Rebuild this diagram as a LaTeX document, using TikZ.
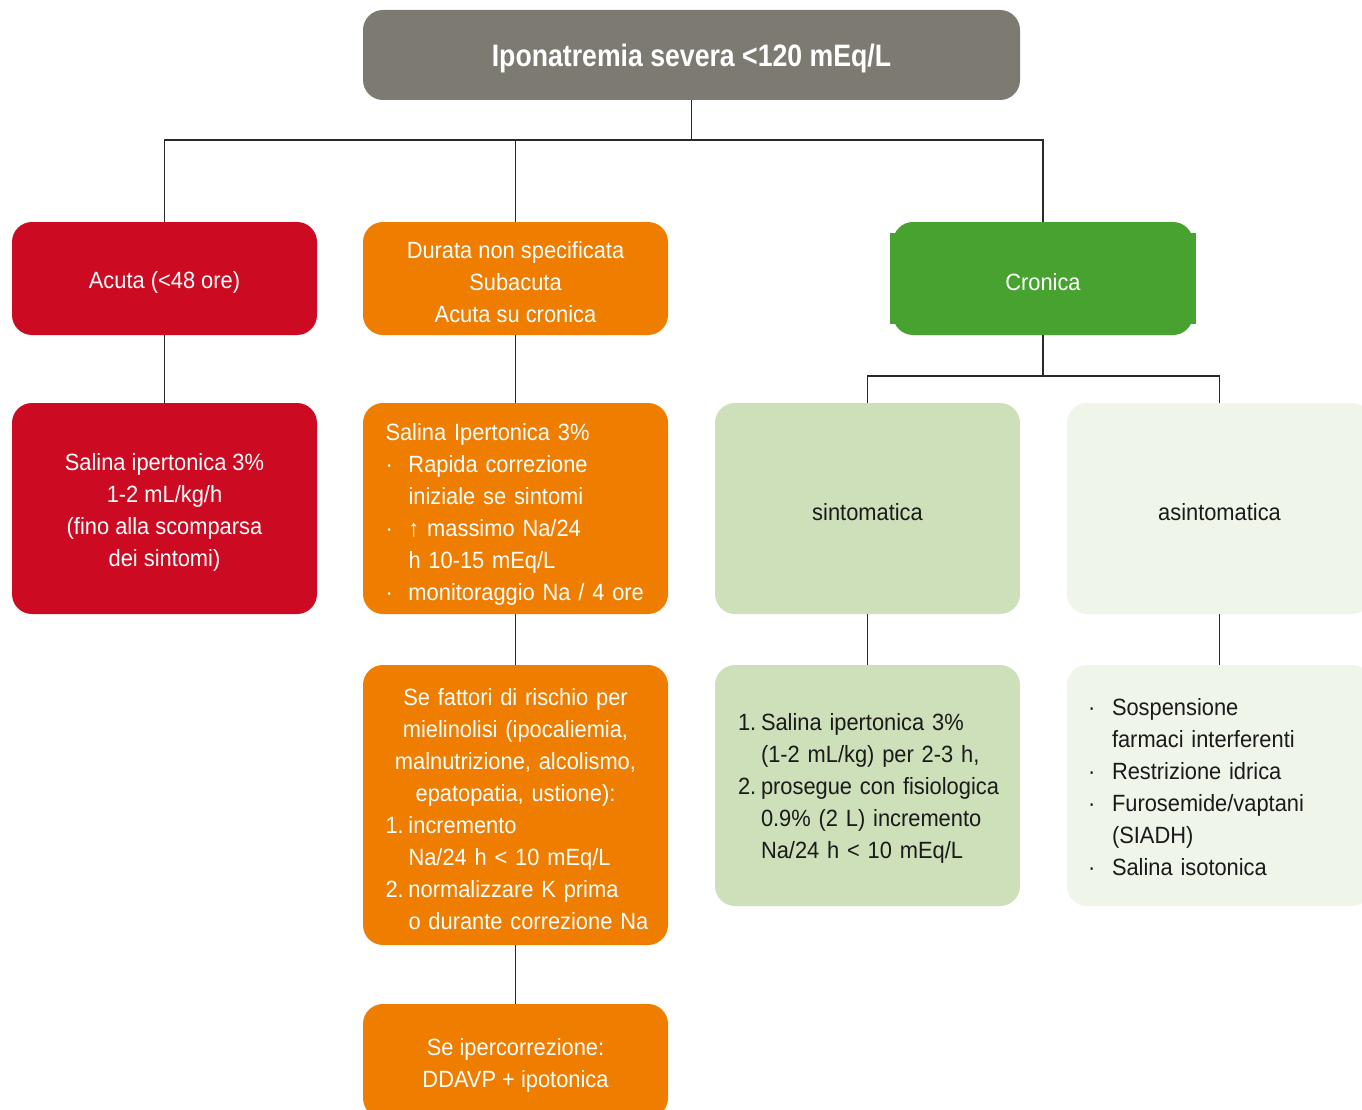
\documentclass[tikz,border=0pt]{standalone}
\usepackage{fontspec}
\setmainfont{Liberation Sans}[FakeStretch=0.93]
\newfontfamily\titlefont{Liberation Sans}[FakeStretch=0.86]
\definecolor{cgray}{HTML}{7D7A72}
\definecolor{cred}{HTML}{CC0A22}
\definecolor{corange}{HTML}{EE7D00}
\definecolor{cgreen}{HTML}{47A22F}
\definecolor{clgreen}{HTML}{CDE0B9}
\definecolor{cvlgreen}{HTML}{EFF5E8}
\definecolor{ctext}{HTML}{1A1A1A}
\definecolor{cline}{HTML}{2A2A2A}
\newcommand{\bul}[1]{\mbox{\makebox[23pt][l]{·}#1}}
\newcommand{\cont}[1]{\mbox{\hspace*{23pt}#1}}
\newcommand{\bulb}[1]{\mbox{\makebox[24pt][l]{·}#1}}
\newcommand{\contb}[1]{\mbox{\hspace*{24pt}#1}}
\newcommand{\enu}[2]{\mbox{\makebox[23pt][l]{#1}#2}}
\begin{document}
\begin{tikzpicture}[x=1pt,y=-1pt,
  box/.style={rounded corners=20pt, minimum width=305pt, inner sep=0pt},
  txt/.style={inner sep=0pt, align=center, yshift=-4pt,
    font=\fontsize{23.5pt}{32pt}\selectfont, text=white},
  dark/.style={text=ctext},
  conn/.style={draw=cline, line width=1.1pt}]
\useasboundingbox (0,0) rectangle (1362,1110);
\clip (0,0) rectangle (1362,1110);
\fill[white] (0,0) rectangle (1362,1110);

\node[box, fill=cgray, minimum width=657pt, minimum height=90pt,
  label={[txt, yshift=1pt, font=\titlefont\bfseries\fontsize{31pt}{36pt}\selectfont]center:Iponatremia severa <120 mEq/L}] (top) at (691.5,55) {};

\node[box, fill=cred, minimum height=113pt,
  label={[txt]center:Acuta (<48 ore)}] (acuta) at (164.5,278.5) {};
\node[box, fill=corange, minimum height=113pt,
  label={[txt]center:{Durata non specificata\\Subacuta\\Acuta su cronica}}] (durata) at (515.5,278.5) {};
\fill[cgreen] (890,233) rectangle (1196,324);
\node[box, fill=cgreen, minimum width=300pt, minimum height=113pt,
  label={[txt]center:Cronica}] (cronica) at (1043,278.5) {};

\node[box, fill=cred, minimum height=211pt,
  label={[txt]center:{Salina ipertonica 3\%\\1-2 mL/kg/h\\(fino alla scomparsa\\dei sintomi)}}] (salina1) at (164.5,508.5) {};
\node[box, fill=corange, minimum height=211pt,
  label={[txt, yshift=-2pt, text width=260pt, align=left]center:{Salina Ipertonica 3\%\\\bul{Rapida correzione}\\\cont{iniziale se sintomi}\\\bul{↑ massimo Na/24}\\\cont{h 10-15 mEq/L}\\\bul{monitoraggio Na / 4 ore}}}] (salina2) at (515.5,508.5) {};
\node[box, fill=clgreen, minimum height=211pt,
  label={[txt, dark]center:sintomatica}] (sint) at (867.5,508.5) {};
\node[box, fill=cvlgreen, minimum height=211pt,
  label={[txt, dark]center:asintomatica}] (asint) at (1219.5,508.5) {};

\node[box, fill=corange, minimum height=280pt,
  label={[txt, text width=260pt, align=center]center:{Se fattori di rischio per\\mielinolisi (ipocaliemia,\\malnutrizione, alcolismo,\\epatopatia, ustione):\\
   \makebox[260pt][l]{\enu{1.}{incremento}}\\\makebox[260pt][l]{\cont{Na/24 h < 10 mEq/L}}\\
   \makebox[260pt][l]{\enu{2.}{normalizzare K prima}}\\\makebox[260pt][l]{\cont{o durante correzione Na}}}}] (fatt) at (515.5,805) {};
\node[box, fill=clgreen, minimum height=241pt,
  label={[txt, dark, yshift=1pt, text width=259pt, align=left]center:{\enu{1.}{Salina ipertonica 3\%}\\\cont{(1-2 mL/kg) per 2-3 h,}\\\enu{2.}{prosegue con fisiologica}\\\cont{0.9\% (2 L) incremento}\\\cont{Na/24 h < 10 mEq/L}}}] (trat) at (867.5,785.5) {};
\node[box, fill=cvlgreen, minimum height=241pt,
  label={[txt, dark, yshift=2pt, text width=263pt, align=left]center:{\bulb{Sospensione}\\\contb{farmaci interferenti}\\\bulb{Restrizione idrica}\\\bulb{Furosemide/vaptani}\\\contb{(SIADH)}\\\bulb{Salina isotonica}}}] (misure) at (1219.5,785.5) {};
\node[box, fill=corange, minimum height=114pt,
  label={[txt]center:{Se ipercorrezione:\\DDAVP + ipotonica}}] (iper) at (515.5,1061) {};

\coordinate (j1) at (691.5,140);
\coordinate (j2) at (1043,376);
\draw[conn] (top.south) -- (j1);
\draw[conn] (acuta.north) |- (j1) -| (cronica.north);
\draw[conn] (durata.north) -- (durata.north |- j1);
\draw[conn] (acuta.south) -- (salina1.north);
\draw[conn] (durata.south) -- (salina2.north);
\draw[conn] (salina2.south) -- (fatt.north);
\draw[conn] (fatt.south) -- (iper.north);
\draw[conn] (cronica.south) -- (j2);
\draw[conn] (sint.north) |- (j2) -| (asint.north);
\draw[conn] (sint.south) -- (trat.north);
\draw[conn] (asint.south) -- (misure.north);
\end{tikzpicture}
\end{document}
